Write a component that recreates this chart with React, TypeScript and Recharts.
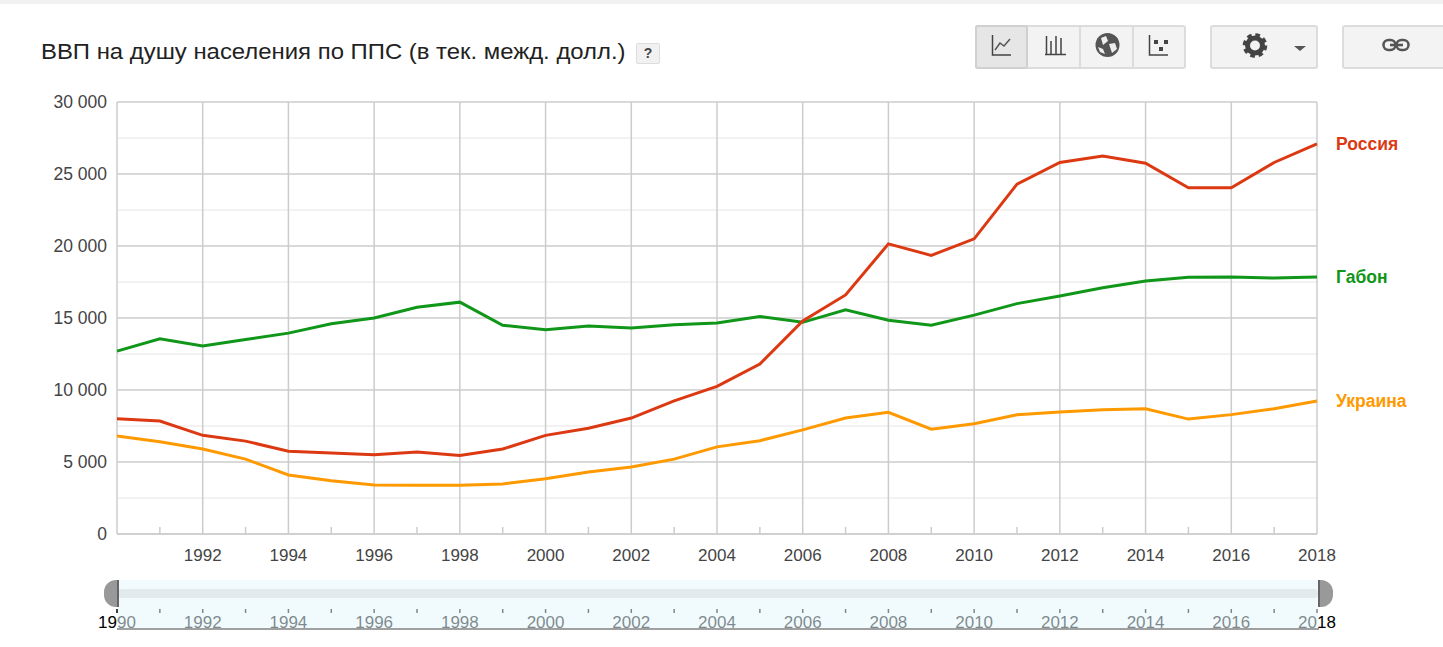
import { Line, LineChart, ReferenceLine, XAxis, YAxis } from 'recharts';

const years = [
  1990, 1991, 1992, 1993, 1994, 1995, 1996, 1997, 1998, 1999, 2000, 2001, 2002, 2003, 2004,
  2005, 2006, 2007, 2008, 2009, 2010, 2011, 2012, 2013, 2014, 2015, 2016, 2017, 2018,
];
const russia = [
  8000, 7850, 6850, 6450, 5750, 5620, 5500, 5700, 5450, 5900, 6850, 7350, 8050, 9250, 10250,
  11800, 14800, 16600, 20150, 19350, 20500, 24300, 25800, 26250, 25750, 24050, 24050, 25800, 27100,
];
const gabon = [
  12700, 13550, 13050, 13500, 13950, 14600, 15000, 15750, 16100, 14500, 14180, 14450, 14300, 14530, 14650,
  15100, 14700, 15570, 14850, 14500, 15200, 16000, 16530, 17100, 17570, 17830, 17840, 17780, 17850,
];
const ukraine = [
  6800, 6400, 5900, 5200, 4100, 3700, 3400, 3390, 3390, 3480, 3830, 4300, 4650, 5200, 6050,
  6480, 7230, 8050, 8450, 7280, 7660, 8280, 8480, 8630, 8700, 7980, 8290, 8700, 9230,
];
const yTicks = [0, 5000, 10000, 15000, 20000, 25000, 30000];
const yMinor = [2500, 7500, 12500, 17500, 22500, 27500];
const xMajor = [1990, 1992, 1994, 1996, 1998, 2000, 2002, 2004, 2006, 2008, 2010, 2012, 2014, 2016, 2018];

const rows = years.map((year, i) => ({ year, russia: russia[i], gabon: gabon[i], ukraine: ukraine[i] }));

const RED = '#dc3912';
const GREEN = '#109618';
const ORANGE = '#ff9900';
const FONT = '"Liberation Sans", Arial, sans-serif';

const fmt = (v: number) => String(v).replace(/\B(?=(\d{3})+$)/g, ' ');

function MainTick({ x, y, payload }: any) {
  const year = payload.value;
  if (year % 2 === 1) return <line x1={x} x2={x} y1={y - 7} y2={y} stroke='#ccc' strokeWidth={1.5} />;
  if (year === 1990) return null;
  return (
    <text x={x} y={y + 27} textAnchor='middle' fontSize={17} fill='#444' fontFamily={FONT}>
      {year}
    </text>
  );
}

function NavTick({ x, y, payload }: any) {
  const year = payload.value;
  const even = year % 2 === 0;
  return (
    <g>
      <line x1={x} x2={x} y1={y - 19} y2={y - 15} stroke='#000' strokeWidth={1.5} />
      {even && (
        <text x={x} y={y} textAnchor='middle' fontSize={17} fill='#000' fontFamily={FONT}>
          {year}
        </text>
      )}
    </g>
  );
}

function endLabel(text: string, color: string) {
  return ({ x, y, index }: any) =>
    index === years.length - 1 ? (
      <text key={text} x={x + 19} y={y + 6} fontSize={17.5} fontWeight='bold' fill={color} fontFamily={FONT}>
        {text}
      </text>
    ) : (
      <g key={index} />
    );
}

const btn = (left: number, top: number, width: number, height: number, extra = {}) =>
  ({
    position: 'absolute',
    left,
    top,
    width,
    height,
    boxSizing: 'border-box',
    background: '#f3f3f3',
    border: '2px solid #dcdcdc',
    borderRadius: 3,
    ...extra,
  }) as React.CSSProperties;

function Toolbar() {
  return (
    <>
      <div style={btn(975, 25, 211, 44)} />
      <div style={btn(975, 25, 53, 44, { background: '#e6e6e6', borderColor: '#d0d0d0' })} />
      <div style={{ position: 'absolute', left: 1079, top: 27, width: 2, height: 40, background: '#dcdcdc' }} />
      <div style={{ position: 'absolute', left: 1132, top: 27, width: 2, height: 40, background: '#dcdcdc' }} />
      <div style={btn(1210, 25, 108, 44)} />
      <div style={btn(1342, 25, 110, 44)} />
      <svg width={1443} height={80} style={{ position: 'absolute', left: 0, top: 0 }}>
        <g fill='none' stroke='#444' strokeWidth={1.5}>
          <path d='M992.5 35V55H1011' />
          <path d='M995 50L1000 43L1004 46L1010 39' stroke='#555' />
          <path d='M1046.5 36V54M1051 41V54M1056 36V54M1061 38V54M1045 54.5H1066' />
          <path d='M1149.5 35V55H1168' />
        </g>
        <g fill='#444'>
          <rect x={1154} y={40} width={4} height={4} />
          <rect x={1164} y={40} width={4} height={4} />
          <rect x={1159} y={47} width={4} height={4} />
        </g>
        <circle cx={1107.5} cy={45} r={12} fill='#555' />
        <path d='M1101 38L1106 36L1108 41L1103 45ZM1109 44L1115 43L1117 49L1112 53ZM1098 47L1103 49L1105 54L1100 52Z' fill='#eee' />
        <circle cx={1255} cy={45.5} r={7.5} fill='none' stroke='#444' strokeWidth={5} />
        <circle cx={1255} cy={45.5} r={10.5} fill='none' stroke='#444' strokeWidth={3.5} strokeDasharray='4.6 3.65' />
        <path d='M1294 46H1306L1300 51Z' fill='#555' />
        <g fill='none' stroke='#555' strokeWidth={2.5}>
          <rect x={1383.5} y={40} width={12} height={10} rx={5} />
          <rect x={1396.5} y={40} width={12} height={10} rx={5} />
        </g>
        <rect x={1390} y={43.7} width={13} height={2.6} fill='#555' />
      </svg>
    </>
  );
}

export default function App() {
  return (
    <div style={{ position: 'absolute', left: 0, top: 0, width: 1443, height: 647, background: '#fff', overflow: 'hidden', fontFamily: FONT }}>
      <div style={{ position: 'absolute', left: 0, top: 0, width: 1443, height: 4, background: '#f1f1f1' }} />
      <div style={{ position: 'absolute', left: 41, top: 38, fontSize: 23.9, lineHeight: '28px', color: '#222', whiteSpace: 'nowrap', transform: 'scaleY(0.92)' }}>
        ВВП на душу населения по ППС (в тек. межд. долл.)
      </div>
      <div
        style={{
          position: 'absolute', left: 636, top: 43, width: 24, height: 21, boxSizing: 'border-box',
          background: '#f1f1f1', border: '1px solid #ddd', borderRadius: 2,
          fontSize: 14, fontWeight: 'bold', color: '#444', textAlign: 'center', lineHeight: '19px',
        }}
      >
        ?
      </div>
      <Toolbar />

      <div style={{ position: 'absolute', left: 0, top: 0 }}>
        <LineChart width={1443} height={647} data={rows} margin={{ top: 102, right: 126, bottom: 0, left: 0 }}>
          {yMinor.map((v) => (
            <ReferenceLine key={v} y={v} stroke='#eeeeee' strokeWidth={1.5} />
          ))}
          {yTicks.map((v) => (
            <ReferenceLine key={v} y={v} stroke='#cccccc' strokeWidth={1.5} />
          ))}
          {xMajor.map((v) => (
            <ReferenceLine key={v} x={v} stroke='#cccccc' strokeWidth={1.5} />
          ))}
          <XAxis
            dataKey='year'
            type='number'
            domain={[1990, 2018]}
            ticks={years}
            interval={0}
            tick={<MainTick />}
            tickLine={false}
            tickSize={0}
            tickMargin={0}
            axisLine={{ stroke: '#cccccc', strokeWidth: 1.5 }}
            height={113}
          />
          <YAxis
            type='number'
            domain={[0, 30000]}
            ticks={yTicks}
            interval={0}
            width={117}
            tickLine={false}
            tickMargin={4}
            axisLine={false}
            tickFormatter={fmt}
            tick={{ fill: '#444', fontSize: 17.5, fontFamily: FONT }}
          />
          <Line dataKey='ukraine' stroke={ORANGE} strokeWidth={3} dot={false} isAnimationActive={false} label={endLabel('Украина', ORANGE)} />
          <Line dataKey='gabon' stroke={GREEN} strokeWidth={3} dot={false} isAnimationActive={false} label={endLabel('Габон', GREEN)} />
          <Line dataKey='russia' stroke={RED} strokeWidth={3} dot={false} isAnimationActive={false} label={endLabel('Россия', RED)} />
        </LineChart>
      </div>

      {/* range selector under the chart */}
      <div style={{ position: 'absolute', left: 0, top: 580 }}>
        <LineChart width={1443} height={67} data={rows} margin={{ top: 0, right: 126, bottom: 0, left: 117 }}>
          <XAxis
            dataKey='year'
            type='number'
            domain={[1990, 2018]}
            ticks={years}
            interval={0}
            tick={<NavTick />}
            tickLine={false}
            tickSize={0}
            tickMargin={0}
            axisLine={false}
            height={19}
          />
          <YAxis hide domain={[0, 30000]} />
        </LineChart>
      </div>
      <div style={{ position: 'absolute', left: 118, top: 580, width: 1200, height: 48, background: 'rgba(229,247,253,0.55)' }} />
      <div style={{ position: 'absolute', left: 118, top: 589, width: 1200, height: 9, background: '#e2eaed', borderRadius: 4 }} />
      <div style={{ position: 'absolute', left: 117, top: 628, width: 1202, height: 2, background: '#a0a0a0' }} />
      <div style={{ position: 'absolute', left: 104, top: 580, width: 14, height: 27, background: '#999', borderRadius: '12px 0 0 12px' }} />
      <div style={{ position: 'absolute', left: 1318, top: 580, width: 15, height: 27, background: '#999', borderRadius: '0 12px 12px 0' }} />
      <div style={{ position: 'absolute', left: 117, top: 580, width: 2, height: 27, background: '#666' }} />
      <div style={{ position: 'absolute', left: 1318, top: 580, width: 2, height: 27, background: '#666' }} />
    </div>
  );
}
